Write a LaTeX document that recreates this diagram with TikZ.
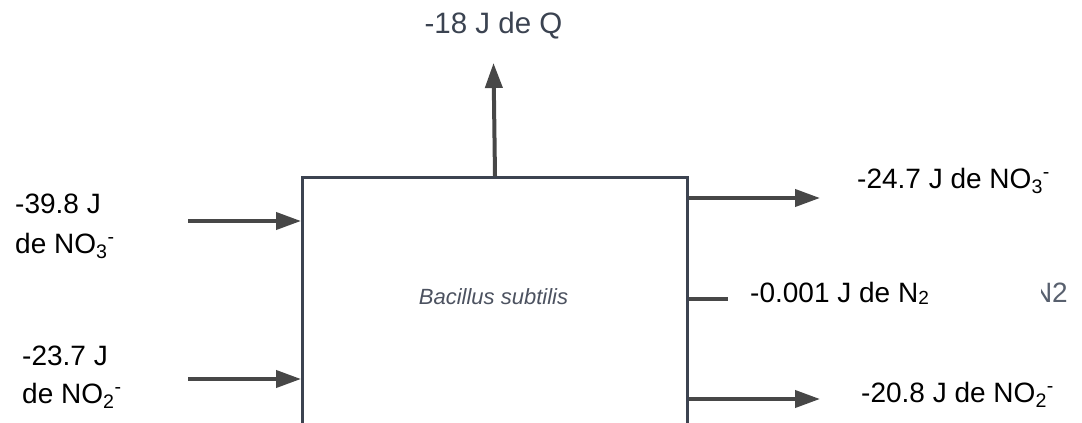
\documentclass[tikz,border=0pt]{standalone}
\usepackage{fontspec}
\setmainfont{Liberation Sans}
\usetikzlibrary{arrows.meta}
\definecolor{arrowgray}{HTML}{474747}
\definecolor{boxedge}{HTML}{3C4350}
\definecolor{slate}{HTML}{3B4351}
\definecolor{bacgray}{HTML}{4C5260}
\definecolor{cutgray}{HTML}{58606E}
\tikzset{
  arr/.style={line width=4pt, draw=arrowgray, -{Triangle[length=25pt,width=17pt]}},
  plain/.style={line width=4pt, draw=arrowgray},
  lab/.style={inner sep=0pt, anchor=base west, font=\fontsize{28}{40}\selectfont, align=left},
}
\begin{document}
\begin{tikzpicture}[x=1pt, y=-1pt]
\useasboundingbox (0,0) rectangle (1082,423);
\clip (0,0) rectangle (1082,423);
% box
\node[draw=boxedge, line width=3pt, fill=white, anchor=north west,
      minimum width=385pt, minimum height=300pt, inner sep=0pt] (box) at (301,176) {};
\node[inner sep=0pt, anchor=base, text=bacgray, font=\fontsize{22}{26}\selectfont\itshape] (bac) at (493.5,304) {Bacillus subtilis};
% coordinates
\coordinate (qtip) at (493.5,63);
\coordinate (in1) at (188,221);
\coordinate (in2) at (188,379);
\coordinate (out1) at (820,198);
\coordinate (out2) at (820,399);
\coordinate (n2end) at (728,299);
% arrows
\draw[arr] (box.north) -- (qtip);
\draw[arr] (in1) -- (in1 -| box.west);
\draw[arr] (in2) -- (in2 -| box.west);
\draw[arr] (out1 -| box.east) -- (out1);
\draw[arr] (out2 -| box.east) -- (out2);
\draw[plain] (n2end -| box.east) -- (n2end);
% labels
\node[lab, anchor=base, text=slate, font=\fontsize{29.5}{36}\selectfont] (lq) at (493.5,34) {-18 J de Q};
\node[lab] (l1a) at (15,213) {-39.8 J};
\node[lab] (l1b) at (15,253) {de NO\textsubscript{3}\textsuperscript{-}};
\node[lab] (l2a) at (22,365) {-23.7 J};
\node[lab] (l2b) at (22,403) {de NO\textsubscript{2}\textsuperscript{-}};
\node[lab] (r1) at (857,188) {-24.7 J de NO\textsubscript{3}\textsuperscript{-}};
\node[lab] (r2) at (750,302) {-0.001 J de N\raisebox{-2pt}{\fontsize{19}{20}\selectfont 2}};
\node[lab] (r3) at (861,402) {-20.8 J de NO\textsubscript{2}\textsuperscript{-}};
\begin{scope}
  \clip (1041,260) rectangle (1082,320);
  \node[lab, anchor=base east, text=cutgray] (cut) at (1068,302) {N2};
\end{scope}
\end{tikzpicture}
\end{document}
